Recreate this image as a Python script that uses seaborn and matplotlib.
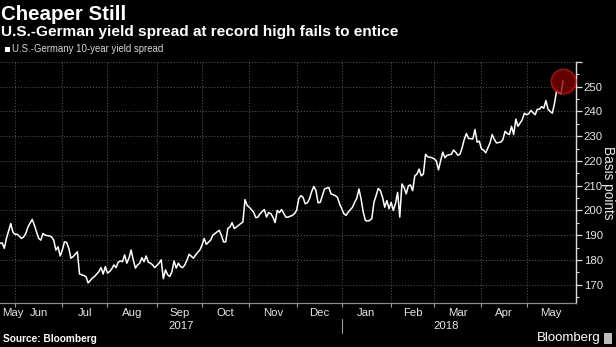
import numpy as np
import pandas as pd
import matplotlib
matplotlib.use("Agg")
import matplotlib.pyplot as plt
import matplotlib.transforms as mtransforms
from matplotlib.patches import Rectangle
from matplotlib.lines import Line2D
import seaborn as sns

# ---------------- data ----------------
dates = [
    "2017-05-23", "2017-05-24", "2017-05-25", "2017-05-26", "2017-05-30", "2017-05-31",
    "2017-06-01", "2017-06-02", "2017-06-06", "2017-06-07", "2017-06-08", "2017-06-09",
    "2017-06-13", "2017-06-14", "2017-06-16", "2017-06-19", "2017-06-20", "2017-06-21",
    "2017-06-23", "2017-06-26", "2017-06-27", "2017-06-28", "2017-06-29", "2017-06-30",
    "2017-07-03", "2017-07-04", "2017-07-05", "2017-07-06", "2017-07-07", "2017-07-10",
    "2017-07-12", "2017-07-13", "2017-07-17", "2017-07-18", "2017-07-19", "2017-07-21",
    "2017-07-24", "2017-07-26", "2017-07-27", "2017-07-28", "2017-07-31",
    "2017-08-01", "2017-08-02", "2017-08-03", "2017-08-04", "2017-08-07", "2017-08-08",
    "2017-08-09", "2017-08-10", "2017-08-11", "2017-08-14", "2017-08-15", "2017-08-16",
    "2017-08-17", "2017-08-18", "2017-08-21", "2017-08-22", "2017-08-23", "2017-08-24",
    "2017-08-25", "2017-08-28", "2017-08-29", "2017-08-30", "2017-08-31",
    "2017-09-04", "2017-09-05", "2017-09-06", "2017-09-07", "2017-09-08", "2017-09-11",
    "2017-09-12", "2017-09-13", "2017-09-14", "2017-09-15", "2017-09-18", "2017-09-19",
    "2017-09-20", "2017-09-21", "2017-09-22", "2017-09-26", "2017-09-27", "2017-09-28",
    "2017-09-29",
    "2017-10-02", "2017-10-03", "2017-10-04", "2017-10-06", "2017-10-09", "2017-10-11",
    "2017-10-12", "2017-10-13", "2017-10-16", "2017-10-17", "2017-10-18", "2017-10-19",
    "2017-10-20", "2017-10-23", "2017-10-24", "2017-10-26", "2017-10-27", "2017-10-30",
    "2017-10-31",
    "2017-11-01", "2017-11-03", "2017-11-06", "2017-11-07", "2017-11-08", "2017-11-10",
    "2017-11-13", "2017-11-14", "2017-11-15", "2017-11-16", "2017-11-17", "2017-11-20",
    "2017-11-21", "2017-11-22", "2017-11-24", "2017-11-27", "2017-11-29", "2017-11-30",
    "2017-12-01", "2017-12-04", "2017-12-05", "2017-12-06", "2017-12-07", "2017-12-08",
    "2017-12-11", "2017-12-12", "2017-12-13", "2017-12-14", "2017-12-15", "2017-12-18",
    "2017-12-19", "2017-12-20", "2017-12-22", "2017-12-25", "2017-12-27", "2017-12-28",
    "2017-12-29",
    "2018-01-02", "2018-01-03", "2018-01-04", "2018-01-08", "2018-01-09", "2018-01-10",
    "2018-01-11", "2018-01-12", "2018-01-15", "2018-01-16", "2018-01-17", "2018-01-18",
    "2018-01-19", "2018-01-22", "2018-01-23", "2018-01-24", "2018-01-25", "2018-01-26",
    "2018-01-29", "2018-01-30", "2018-01-31",
    "2018-02-01", "2018-02-02", "2018-02-05", "2018-02-06", "2018-02-07", "2018-02-08",
    "2018-02-09", "2018-02-12", "2018-02-13", "2018-02-14", "2018-02-15", "2018-02-16",
    "2018-02-19", "2018-02-20", "2018-02-21", "2018-02-22", "2018-02-23", "2018-02-26",
    "2018-02-28",
    "2018-03-01", "2018-03-02", "2018-03-05", "2018-03-06", "2018-03-07", "2018-03-08",
    "2018-03-09", "2018-03-13", "2018-03-14", "2018-03-15", "2018-03-16", "2018-03-19",
    "2018-03-20", "2018-03-21", "2018-03-22", "2018-03-23", "2018-03-27", "2018-03-28",
    "2018-03-29", "2018-03-30",
    "2018-04-02", "2018-04-03", "2018-04-04", "2018-04-06", "2018-04-09", "2018-04-10",
    "2018-04-11", "2018-04-13", "2018-04-16", "2018-04-17", "2018-04-18", "2018-04-19",
    "2018-04-20", "2018-04-23", "2018-04-24", "2018-04-25", "2018-04-27", "2018-04-30",
    "2018-05-01", "2018-05-02", "2018-05-03", "2018-05-07", "2018-05-08", "2018-05-09",
    "2018-05-10", "2018-05-11", "2018-05-14", "2018-05-15", "2018-05-16", "2018-05-17",
    "2018-05-18", "2018-05-21", "2018-05-22", "2018-05-23", "2018-05-24",
]

spread = [
    186.7, 186.9, 184.7, 188.7, 194.7, 191.3,
    190.3, 190.4, 188.7, 189.3, 190.7, 193.3,
    196.4, 194.0, 188.7, 188.0, 190.7, 190.0,
    189.7, 189.3, 188.0, 184.0, 185.3, 181.6,
    184.0, 187.3, 187.1, 184.7, 180.7, 181.3,
    183.3, 174.3, 173.7, 173.3, 170.7, 172.7,
    173.3, 175.3, 176.9, 174.3, 177.3,
    174.7, 175.3, 176.4, 178.0, 176.9, 179.1,
    179.6, 179.3, 182.0, 178.7, 180.7, 184.0,
    180.0, 176.7, 178.0, 178.7, 180.9, 179.3,
    181.6, 179.1, 178.7, 178.0, 176.9,
    178.7, 180.0, 172.4, 176.0, 174.0, 173.3,
    175.3, 179.6, 176.7, 178.7, 177.3, 176.9,
    178.0, 180.0, 182.3, 180.7, 182.0, 183.1,
    184.0,
    186.0, 188.7, 186.3, 188.0, 190.0, 191.3,
    192.0, 190.0, 187.3, 187.3, 192.7, 193.3,
    195.1, 192.7, 193.3, 194.7, 195.3, 204.4,
    202.0,
    201.3, 199.3, 197.1, 197.3, 198.7, 200.4,
    197.3, 199.1, 198.7, 197.3, 195.1, 200.0,
    199.1, 200.4, 197.3, 197.3, 198.0, 198.7,
    200.0, 204.7, 206.0, 205.3, 202.7, 203.1,
    204.7, 207.6, 209.7, 208.0, 203.1, 203.3,
    206.0, 208.7, 209.3, 206.7, 206.0, 205.3,
    202.7,
    198.7, 198.0, 199.3, 201.3, 203.3, 204.9,
    208.7, 204.7, 199.3, 196.0, 195.7, 196.0,
    196.7, 203.3, 206.0, 208.9, 208.0, 205.3,
    201.3, 204.0, 200.7,
    203.3, 200.0, 202.7, 207.3, 197.3, 210.7,
    209.3, 206.7, 210.0, 210.3, 208.0, 214.0,
    214.7, 216.7, 214.0, 214.7, 222.7, 221.7,
    221.3,
    220.9, 220.0, 216.4, 220.0, 223.6, 221.3,
    222.3, 222.7, 224.4, 223.6, 222.3, 222.7,
    225.3, 228.7, 231.1, 229.1, 228.9, 232.7,
    227.6, 228.0,
    224.9, 224.4, 223.3, 227.3, 230.7, 228.7,
    227.3, 227.6, 228.7, 232.0, 231.1, 230.7,
    234.0, 230.7, 236.9, 234.0, 236.7, 239.3,
    238.7, 239.1, 240.4, 238.7, 240.9, 240.9,
    242.0, 241.3, 244.4, 240.9, 240.0, 239.3,
    243.3, 248.4, 247.6, 247.2, 252.4,
]

month_labels = ["May", "Jun", "Jul", "Aug", "Sep", "Oct", "Nov", "Dec",
                "Jan", "Feb", "Mar", "Apr", "May"]
year_labels = ["2017", "2018"]
ytick_values = [170, 180, 190, 200, 210, 220, 230, 240, 250]

# ---------------- style ----------------
sns.set_theme(style="dark")
plt.rcParams["font.family"] = ["Liberation Sans", "DejaVu Sans"]

W, H = 616, 347
fig = plt.figure(figsize=(W / 100, H / 100), dpi=100, facecolor="black")

ax_left, ax_right, ax_top, ax_bottom = 0, 576, 62, 303
ax = fig.add_axes([ax_left / W, 1 - ax_bottom / H,
                   (ax_right - ax_left) / W, (ax_bottom - ax_top) / H])
ax.set_facecolor("black")

# business-day axis (the reference skips weekends)
start = np.datetime64("2017-05-23")
end = np.datetime64("2018-06-01")
d = np.array(dates, dtype="datetime64[D]")
df = pd.DataFrame({"t": np.busday_count(start, d), "spread": spread})

sns.lineplot(data=df, x="t", y="spread", ax=ax, color="white", linewidth=1.1,
             zorder=2)

# highlight of the record high
last = df.iloc[-1]
ax.scatter([last["t"]], [last["spread"]], s=310, color="#850000", alpha=0.75,
           edgecolors="#d01010", linewidths=1.2, zorder=3)

x_end = np.busday_count(start, end)
ax.set_xlim(0, x_end)
ax.set_ylim(162.6, 260)

month_starts = pd.date_range("2017-06-01", "2018-06-01", freq="MS").values.astype("datetime64[D]")
ms_idx = np.busday_count(start, month_starts)
ax.set_xticks(ms_idx[:-1])
ax.set_xticklabels([])
ax.tick_params(axis="x", which="major", direction="out", length=3, width=0.8,
               color="#9a9a9a", bottom=True)

ax.yaxis.tick_right()
ax.set_yticks(ytick_values + [260])
ax.set_yticklabels([str(v) for v in ytick_values] + [""])
ax.set_yticks(np.arange(165, 260, 10), minor=True)
ax.tick_params(axis="y", which="major", direction="out", length=4, width=0.9,
               color="#dddddd", labelcolor="#e6e6e6", labelsize=8.2, pad=1.5,
               right=True, left=False)
ax.tick_params(axis="y", which="minor", direction="out", length=2, width=0.8,
               color="#dddddd", right=True, left=False)
ax.set_xlabel("")
ax.set_ylabel("")

ax.grid(True, which="major", axis="both", color="#505050",
        linestyle=(0, (1, 1.6)), linewidth=0.8)
for s in ["left", "top"]:
    ax.spines[s].set_visible(False)
ax.spines["right"].set_color("#dddddd")
ax.spines["right"].set_linewidth(1.0)
ax.spines["bottom"].set_color("#8a8a8a")
ax.spines["bottom"].set_linewidth(0.9)

# month labels centred in their month
trans = mtransforms.blended_transform_factory(ax.transData, ax.transAxes)
bounds = np.concatenate([[0], ms_idx])
y_month = (ax_bottom - 313) / (ax_bottom - ax_top)
y_year = (ax_bottom - 326) / (ax_bottom - ax_top)
for k, lab in enumerate(month_labels):
    a, b = bounds[k], bounds[k + 1]
    if k == 0:
        ax.text(1.0, y_month, lab, transform=trans, ha="left", va="center",
                color="#e6e6e6", fontsize=8.2)
    else:
        ax.text((a + b) / 2, y_month, lab, transform=trans, ha="center",
                va="center", color="#e6e6e6", fontsize=8.2)

jan = np.busday_count(start, np.datetime64("2018-01-01"))
ax.text(jan / 2 + 5, y_year, year_labels[0], transform=trans, ha="center",
        va="center", color="#e6e6e6", fontsize=8.2)
ax.text((jan + x_end) / 2 - 6, y_year, year_labels[1], transform=trans,
        ha="center", va="center", color="#e6e6e6", fontsize=8.2)
ax.add_line(Line2D([jan, jan], [(ax_bottom - 319) / (ax_bottom - ax_top),
                                (ax_bottom - 333) / (ax_bottom - ax_top)],
                   transform=trans, color="#9a9a9a", linewidth=0.8,
                   clip_on=False))

# axis title on the right
fig.text(608 / W, 1 - 183 / H, "Basis points", rotation=270, ha="center",
         va="center", color="#e6e6e6", fontsize=9.8)

# titles, legend, source
fig.text(1 / W, 1 - 14 / H, "Cheaper Still", ha="left", va="center",
         color="white", fontsize=14.8, fontweight="bold")
fig.text(1 / W, 1 - 32 / H, "U.S.-German yield spread at record high fails to entice",
         ha="left", va="center", color="white", fontsize=11.1, fontweight="bold")
fig.add_artist(Rectangle((5 / W, 1 - 52 / H), 5 / W, 5 / H,
                         transform=fig.transFigure, color="white", lw=0))
fig.text(12 / W, 1 - 49.5 / H, "U.S.-Germany 10-year yield spread", ha="left",
         va="center", color="#d8d8d8", fontsize=6.9)
fig.text(3 / W, 1 - 339 / H, "Source: Bloomberg", ha="left", va="center",
         color="white", fontsize=7.3, fontweight="bold")
fig.text(601 / W, 1 - 338 / H, "Bloomberg", ha="right", va="center",
         color="white", fontsize=9.5)
fig.add_artist(Rectangle((604 / W, 1 - 344 / H), 8 / W, 11 / H,
                         transform=fig.transFigure, facecolor="#bbbbbb",
                         edgecolor="none"))

fig.savefig("out.png", dpi=100, facecolor="black")
